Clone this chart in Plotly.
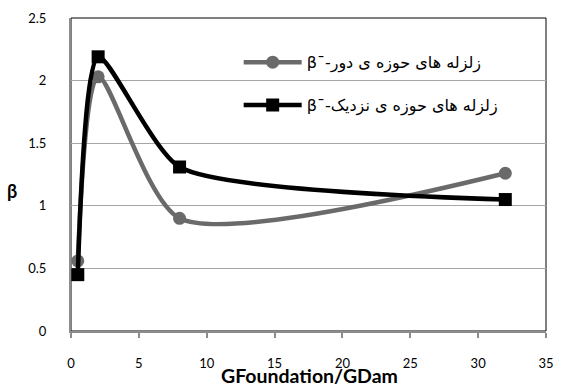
import plotly.graph_objects as go

x_vals = [0.5, 2, 8, 32]
far_beta = [0.56, 2.03, 0.90, 1.26]
near_beta = [0.45, 2.19, 1.31, 1.05]
far_name = "β¯-زلزله های حوزه ی دور"
near_name = "β¯-زلزله های حوزه ی نزدیک"
x_ticks = [0, 5, 10, 15, 20, 25, 30, 35]
y_ticks = [0, 0.5, 1, 1.5, 2, 2.5]

FONT = "Lato, Carlito, DejaVu Sans, sans-serif"

fig = go.Figure()
fig.add_trace(go.Scatter(
    x=x_vals, y=far_beta, name=far_name, mode="lines+markers",
    line=dict(color="#6a6a6a", width=4.5, shape="spline", smoothing=0.7),
    marker=dict(symbol="circle", size=13, color="#6a6a6a"),
    legendgroup="a"))
fig.add_trace(go.Scatter(
    x=x_vals, y=near_beta, name=near_name, mode="lines+markers",
    line=dict(color="#000000", width=4.5, shape="spline", smoothing=0.6),
    marker=dict(symbol="square", size=13, color="#000000"),
    legendgroup="b"))

fig.update_layout(
    width=561, height=387,
    margin=dict(l=71, r=15, t=18, b=56),
    paper_bgcolor="white", plot_bgcolor="white",
    font=dict(family=FONT, size=13, color="#000"),
    showlegend=True,
    legend=dict(x=0.353, y=0.913, xanchor="left", yanchor="top",
                bgcolor="rgba(0,0,0,0)", font=dict(size=16, family="DejaVu Sans, sans-serif"),
                traceorder="grouped", tracegroupgap=19, itemwidth=58),
    shapes=[dict(type="rect", xref="paper", yref="paper", x0=0, y0=0, x1=1, y1=1,
                 line=dict(color="black", width=1), layer="below")],
    annotations=[
        dict(text="<b>β</b>", xref="paper", yref="paper", x=-0.125, y=0.447,
             xanchor="center", yanchor="middle",
             showarrow=False, font=dict(size=18, family=FONT)),
        dict(text="<b>GFoundation/GDam</b>", xref="paper", yref="paper", x=0.503, y=-0.142,
             xanchor="center", yanchor="middle",
             showarrow=False, font=dict(size=19.5, family=FONT)),
    ],
)
fig.update_xaxes(range=[0, 35], tickvals=x_ticks, showgrid=False, zeroline=False,
                 showline=True, linecolor="#8c8c8c", linewidth=2, automargin=False,
                 ticks="outside", ticklen=5, tickcolor="#8c8c8c", tickwidth=2,
                 ticklabelstandoff=14)
fig.update_yaxes(range=[0, 2.5], tickvals=y_ticks, showgrid=True, gridcolor="#a6a6a6",
                 gridwidth=1.3, zeroline=False, showline=True, linecolor="#8c8c8c", linewidth=2,
                 ticks="", ticklabelstandoff=20, automargin=False)

fig.write_html("out.html", config={"displayModeBar": False},
               post_script="document.body.style.margin='0';")
